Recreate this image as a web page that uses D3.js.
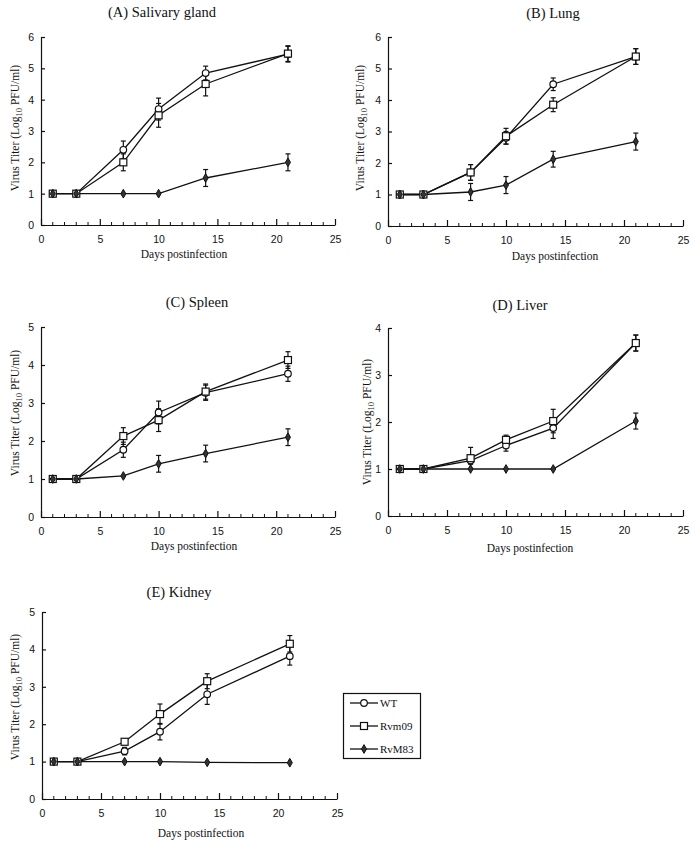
<!DOCTYPE html>
<html>
<head>
<meta charset="utf-8">
<script src="https://cdn.jsdelivr.net/npm/d3@7"></script>
<style>
  html, body { margin: 0; padding: 0; background: #fff; }
  svg { display: block; }
</style>
</head>
<body>
<svg id="chart" width="694" height="844"></svg>
<script>
// ---------- DATA ----------
const days = [1, 3, 7, 10, 14, 21];
const seriesNames = ["WT", "Rvm09", "RvM83"];
const panelTitles = ["(A) Salivary gland", "(B) Lung", "(C) Spleen", "(D) Liver", "(E) Kidney"];
const panelYMax = [6, 6, 5, 4, 5];
const xTickValues = [0, 5, 10, 15, 20, 25];
const xAxisLabel = "Days postinfection";

// (A) Salivary gland
const salivaryWT = [1, 1, 2.4, 3.7, 4.85, 5.45];
const salivaryWTErr = [0, 0, 0.28, 0.35, 0.22, 0.25];
const salivaryRvm09 = [1, 1, 2.0, 3.5, 4.5, 5.47];
const salivaryRvm09Err = [0, 0, 0.27, 0.38, 0.38, 0.25];
const salivaryRvM83 = [1, 1, 1, 1, 1.5, 2.0];
const salivaryRvM83Err = [0, 0, 0, 0, 0.27, 0.27];

// (B) Lung
const lungWT = [1, 1, 1.7, 2.8, 4.5, 5.38];
const lungWTErr = [0, 0, 0.25, 0.2, 0.2, 0.25];
const lungRvm09 = [1, 1, 1.7, 2.85, 3.85, 5.38];
const lungRvm09Err = [0, 0, 0.25, 0.25, 0.22, 0.25];
const lungRvM83 = [1, 1, 1.08, 1.3, 2.12, 2.68];
const lungRvM83Err = [0, 0, 0.27, 0.27, 0.25, 0.27];

// (C) Spleen
const spleenWT = [1, 1, 1.77, 2.75, 3.27, 3.77];
const spleenWTErr = [0, 0, 0.2, 0.3, 0.2, 0.2];
const spleenRvm09 = [1, 1, 2.13, 2.55, 3.3, 4.13];
const spleenRvm09Err = [0, 0, 0.22, 0.3, 0.2, 0.22];
const spleenRvM83 = [1, 1, 1.08, 1.4, 1.67, 2.1];
const spleenRvM83Err = [0, 0, 0, 0.22, 0.22, 0.22];

// (D) Liver
const liverWT = [1, 1, 1.18, 1.5, 1.87, 3.68];
const liverWTErr = [0, 0, 0.08, 0.12, 0.22, 0.17];
const liverRvm09 = [1, 1, 1.23, 1.62, 2.02, 3.68];
const liverRvm09Err = [0, 0, 0.23, 0.1, 0.25, 0.17];
const liverRvM83 = [1, 1, 1, 1, 1, 2.02];
const liverRvM83Err = [0, 0, 0, 0, 0, 0.17];

// (E) Kidney
const kidneyWT = [1, 1, 1.28, 1.8, 2.8, 3.82];
const kidneyWTErr = [0, 0, 0.1, 0.22, 0.27, 0.24];
const kidneyRvm09 = [1, 1, 1.53, 2.27, 3.15, 4.15];
const kidneyRvm09Err = [0, 0, 0.05, 0.27, 0.2, 0.22];
const kidneyRvM83 = [1, 1, 1, 1, 0.98, 0.97];
const kidneyRvM83Err = [0, 0, 0, 0, 0, 0];

const panelValues = [
  [salivaryWT, salivaryRvm09, salivaryRvM83],
  [lungWT, lungRvm09, lungRvM83],
  [spleenWT, spleenRvm09, spleenRvM83],
  [liverWT, liverRvm09, liverRvM83],
  [kidneyWT, kidneyRvm09, kidneyRvM83]
];
const panelErrors = [
  [salivaryWTErr, salivaryRvm09Err, salivaryRvM83Err],
  [lungWTErr, lungRvm09Err, lungRvM83Err],
  [spleenWTErr, spleenRvm09Err, spleenRvM83Err],
  [liverWTErr, liverRvm09Err, liverRvM83Err],
  [kidneyWTErr, kidneyRvm09Err, kidneyRvM83Err]
];

// ---------- LAYOUT ----------
const layout = [
  { x0: 41, x1: 335, y0: 225, y1: 37, titleX: 162, titleY: 17, xlabX: 184, xlabY: 258, ylabX: 19, ylabY: 128 },
  { x0: 388, x1: 683, y0: 226, y1: 37, titleX: 553, titleY: 18, xlabX: 555, xlabY: 260, ylabX: 364, ylabY: 128 },
  { x0: 41, x1: 335, y0: 517, y1: 327, titleX: 197, titleY: 307, xlabX: 194, xlabY: 550, ylabX: 19, ylabY: 413 },
  { x0: 388, x1: 683, y0: 516, y1: 328, titleX: 520, titleY: 310, xlabX: 530, xlabY: 552, ylabX: 371, ylabY: 422 },
  { x0: 42, x1: 337, y0: 799, y1: 612, titleX: 179, titleY: 597, xlabX: 201, xlabY: 837, ylabX: 19, ylabY: 697 }
];

const svg = d3.select("#chart");
const ink = "#111";
const serif = "'Liberation Serif', 'DejaVu Serif', serif";
const sans = "'Liberation Sans', Arial, sans-serif";

function drawMarker(g, type, x, y) {
  if (type === 0) {
    g.append("circle").attr("cx", x).attr("cy", y).attr("r", 3.3)
      .attr("fill", "#fff").attr("stroke", ink).attr("stroke-width", 1.2);
  } else if (type === 1) {
    g.append("rect").attr("x", x - 3.5).attr("y", y - 3.5).attr("width", 7).attr("height", 7)
      .attr("fill", "#fff").attr("stroke", ink).attr("stroke-width", 1.2);
  } else {
    g.append("path").attr("d", d3.symbol().type(d3.symbolDiamond).size(22)())
      .attr("transform", `translate(${x},${y})`)
      .attr("fill", "#333").attr("stroke", ink).attr("stroke-width", 1);
  }
}

layout.forEach((L, p) => {
  const g = svg.append("g");
  const x = d3.scaleLinear().domain([0, 25]).range([L.x0, L.x1]);
  const y = d3.scaleLinear().domain([0, panelYMax[p]]).range([L.y0, L.y1]);

  // x axis: major ticks inward (up), minor ticks every day
  const xAxis = d3.axisBottom(x).tickValues(xTickValues).tickSizeInner(-6).tickSizeOuter(0).tickPadding(11);
  const xg = g.append("g").attr("transform", `translate(0,${L.y0})`).call(xAxis);
  xg.select(".domain").attr("stroke", ink).attr("stroke-width", 1.2);
  xg.selectAll(".tick line").attr("stroke", ink).attr("stroke-width", 1.2);
  xg.selectAll(".tick text").attr("font-family", sans).attr("font-size", 10.5).attr("fill", ink);
  const minor = d3.range(0, 26).filter(d => d % 5 !== 0);
  xg.selectAll(".minor").data(minor).join("line")
    .attr("x1", d => x(d)).attr("x2", d => x(d)).attr("y1", 0).attr("y2", -3)
    .attr("stroke", ink).attr("stroke-width", 1);

  // y axis
  const yAxis = d3.axisLeft(y).ticks(panelYMax[p]).tickFormat(d3.format("d")).tickSizeInner(-4).tickSizeOuter(0).tickPadding(7);
  const yg = g.append("g").attr("transform", `translate(${L.x0},0)`).call(yAxis);
  yg.select(".domain").attr("stroke", ink).attr("stroke-width", 1.2);
  yg.selectAll(".tick line").attr("stroke", ink).attr("stroke-width", 1.2);
  yg.selectAll(".tick text").attr("font-family", sans).attr("font-size", 10.5).attr("fill", ink);

  // title
  g.append("text").attr("x", L.titleX).attr("y", L.titleY).attr("text-anchor", "middle")
    .attr("font-family", serif).attr("font-size", 14.5).attr("fill", ink).text(panelTitles[p]);
  // x label
  g.append("text").attr("x", L.xlabX).attr("y", L.xlabY).attr("text-anchor", "middle")
    .attr("font-family", serif).attr("font-size", 11.5).attr("fill", ink).text(xAxisLabel);
  // y label
  const yl = g.append("text").attr("transform", `translate(${L.ylabX},${L.ylabY}) rotate(-90)`)
    .attr("text-anchor", "middle").attr("font-family", serif).attr("font-size", 11.5).attr("fill", ink);
  yl.append("tspan").text("Virus Titer (Log");
  yl.append("tspan").attr("dy", 3).attr("font-size", 8.5).text("10");
  yl.append("tspan").attr("dy", -3).text(" PFU/ml)");

  const line = d3.line().x((d, i) => x(days[i])).y(d => y(d));
  // lines
  panelValues[p].forEach((vals) => {
    g.append("path").attr("d", line(vals)).attr("fill", "none")
      .attr("stroke", ink).attr("stroke-width", 1.3);
  });
  // error bars
  panelValues[p].forEach((vals, s) => {
    vals.forEach((v, i) => {
      const e = panelErrors[p][s][i];
      if (!e) return;
      const cx = x(days[i]);
      const a = y(v - e), b = y(v + e);
      g.append("line").attr("x1", cx).attr("x2", cx).attr("y1", a).attr("y2", b)
        .attr("stroke", ink).attr("stroke-width", 1.2);
      [a, b].forEach(yy => g.append("line").attr("x1", cx - 2.5).attr("x2", cx + 2.5)
        .attr("y1", yy).attr("y2", yy).attr("stroke", ink).attr("stroke-width", 1.2));
    });
  });
  // markers
  panelValues[p].forEach((vals, s) => {
    vals.forEach((v, i) => drawMarker(g, s, x(days[i]), y(v)));
  });
});

// legend
const lg = svg.append("g");
lg.append("rect").attr("x", 343.5).attr("y", 693.5).attr("width", 77).attr("height", 65)
  .attr("fill", "#fff").attr("stroke", ink).attr("stroke-width", 1.2);
const legendY = d3.scalePoint().domain(seriesNames).range([703, 749]);
seriesNames.forEach((name, s) => {
  const yy = legendY(name);
  lg.append("line").attr("x1", 350).attr("x2", 378).attr("y1", yy).attr("y2", yy)
    .attr("stroke", ink).attr("stroke-width", 1.3);
  drawMarker(lg, s, 364, yy);
  lg.append("text").attr("x", 380).attr("y", yy + 4).attr("font-family", serif)
    .attr("font-size", 11).attr("fill", ink).text(name);
});
</script>
</body>
</html>
